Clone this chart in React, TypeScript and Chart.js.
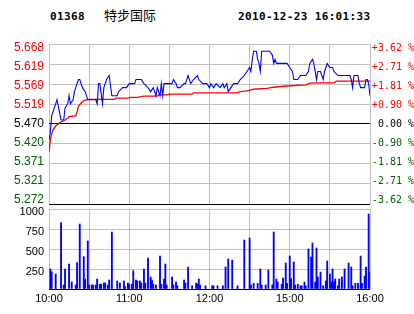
import React, { useEffect, useRef } from 'react';
import { Chart, registerables } from 'chart.js';

Chart.register(...registerables);

const stockCode = '01368';
const stockName = '特步国际';
const quoteTime = '2010-12-23 16:01:33';

const prevClose = 5.47;
const priceLow = 5.272;
const priceHigh = 5.668;
// bottom to top
const priceTickLabels = ['5.272', '5.321', '5.371', '5.420', '5.470', '5.519', '5.569', '5.619', '5.668'];
const changeTickLabels = ['-3.62 %', '-2.71 %', '-1.81 %', '-0.90 %', '0.00 %', '+0.90 %', '+1.81 %', '+2.71 %', '+3.62 %'];
const volumeTickLabels = ['', '250', '500', '750', '1000'];
const volumeMax = 1000;
const gridMinutes = [0, 30, 60, 90, 120, 150, 180, 210, 240];
const timeTickMinutes = [0, 60, 120, 180, 240];
const timeTickLabels = ['10:00', '11:00', '12:00', '15:00', '16:00'];

const priceMinutes = [0, 1, 2, 4, 6, 9, 11, 12, 14, 15, 16, 18, 19, 20, 22, 23, 25, 27, 29, 35, 36, 37, 38, 40, 41, 43, 45, 47, 51, 52, 55, 58, 60, 64, 65, 69, 71, 74, 76, 78, 80, 81, 83, 84, 85, 86, 92, 93, 95, 96, 98, 101, 102, 104, 105, 106, 108, 111, 112, 115, 118, 120, 121, 123, 125, 128, 130, 131, 133, 134, 136, 138, 141, 143, 146, 148, 150, 151, 152, 153, 155, 156, 157, 158, 159, 165, 167, 168, 169, 170, 178, 180, 182, 183, 186, 188, 192, 194, 195, 197, 198, 199, 200, 201, 203, 204, 205, 206, 208, 210, 212, 213, 216, 225, 226, 227, 228, 231, 232, 233, 236, 237, 238, 239, 240];
const priceValues = [5.43, 5.45, 5.49, 5.51, 5.53, 5.48, 5.48, 5.51, 5.52, 5.54, 5.52, 5.53, 5.55, 5.56, 5.58, 5.58, 5.56, 5.55, 5.53, 5.53, 5.52, 5.57, 5.57, 5.52, 5.56, 5.58, 5.59, 5.54, 5.54, 5.55, 5.56, 5.56, 5.57, 5.57, 5.58, 5.58, 5.57, 5.56, 5.55, 5.56, 5.54, 5.56, 5.54, 5.57, 5.54, 5.57, 5.57, 5.58, 5.57, 5.56, 5.56, 5.57, 5.57, 5.59, 5.58, 5.57, 5.58, 5.59, 5.58, 5.57, 5.57, 5.56, 5.57, 5.56, 5.57, 5.56, 5.57, 5.56, 5.57, 5.55, 5.56, 5.57, 5.57, 5.58, 5.59, 5.60, 5.61, 5.60, 5.63, 5.65, 5.65, 5.63, 5.62, 5.60, 5.65, 5.65, 5.64, 5.62, 5.63, 5.62, 5.62, 5.61, 5.60, 5.58, 5.58, 5.59, 5.59, 5.60, 5.62, 5.63, 5.62, 5.60, 5.58, 5.60, 5.60, 5.59, 5.58, 5.60, 5.62, 5.61, 5.61, 5.60, 5.59, 5.59, 5.58, 5.56, 5.59, 5.59, 5.57, 5.56, 5.56, 5.58, 5.58, 5.57, 5.54];

const avgMinutes = [0, 1, 2, 3, 5, 8, 12, 14, 15, 20, 21, 22, 24, 26, 30, 49, 50, 59, 61, 66, 71, 81, 82, 88, 90, 107, 108, 141, 143, 148, 153, 163, 168, 178, 192, 195, 201, 213, 215, 240];
const avgValues = [5.40, 5.43, 5.445, 5.455, 5.465, 5.473, 5.480, 5.484, 5.488, 5.490, 5.500, 5.513, 5.522, 5.528, 5.531, 5.531, 5.534, 5.534, 5.536, 5.536, 5.539, 5.539, 5.542, 5.542, 5.544, 5.544, 5.547, 5.547, 5.550, 5.552, 5.556, 5.558, 5.561, 5.564, 5.567, 5.571, 5.572, 5.572, 5.576, 5.576];

const volumeMinutes = [1, 2, 5, 9, 11, 12, 15, 17, 20, 21, 23, 26, 27, 29, 30, 32, 33, 35, 36, 38, 39, 41, 42, 44, 45, 47, 51, 53, 56, 57, 59, 60, 62, 63, 65, 66, 68, 69, 71, 72, 74, 76, 77, 78, 80, 83, 84, 86, 87, 88, 92, 93, 95, 96, 101, 102, 104, 107, 110, 111, 112, 113, 117, 122, 123, 126, 130, 132, 134, 137, 141, 146, 150, 151, 153, 156, 158, 159, 162, 164, 167, 168, 170, 171, 174, 175, 177, 178, 180, 181, 183, 184, 186, 188, 189, 191, 192, 194, 196, 197, 199, 200, 201, 203, 205, 207, 208, 210, 211, 212, 213, 214, 216, 217, 219, 221, 224, 226, 227, 229, 231, 233, 234, 236, 237, 239, 240];
const volumeValues = [250, 216, 187, 830, 50, 250, 312, 87, 50, 330, 812, 404, 125, 600, 50, 50, 50, 50, 125, 60, 60, 75, 75, 50, 112, 712, 100, 75, 100, 30, 75, 60, 60, 229, 112, 100, 100, 75, 250, 75, 387, 150, 112, 60, 50, 412, 60, 125, 312, 50, 150, 50, 87, 40, 112, 75, 275, 40, 75, 60, 125, 50, 40, 40, 40, 40, 40, 275, 375, 362, 40, 612, 637, 50, 70, 70, 250, 50, 50, 237, 50, 712, 125, 87, 60, 137, 325, 70, 412, 130, 337, 50, 60, 40, 40, 87, 40, 500, 400, 575, 87, 512, 150, 212, 40, 100, 350, 187, 87, 250, 87, 125, 40, 125, 150, 250, 325, 275, 40, 70, 70, 412, 70, 162, 275, 937, 212];

const RED = '#ff0000';
const GREEN = '#006000';
const BLACK = '#000000';
const GRID = '#c0c0c0';
const BLUE = '#0000ff';

const priceLabelsPlugin = {
  id: 'priceLabels',
  afterDraw(chart: any) {
    const { ctx, chartArea } = chart;
    const ys = chart.scales.y;
    const mid = (chartArea.top + chartArea.bottom) / 2;
    ctx.save();
    ctx.textBaseline = 'middle';
    ys.ticks.forEach((t: any, i: number) => {
      const p = ys.getPixelForValue(t.value);
      const ly = p + (mid - p) * 0.05;
      const color = t.value > prevClose + 1e-6 ? RED : t.value < prevClose - 1e-6 ? GREEN : BLACK;
      ctx.fillStyle = color;
      ctx.textAlign = 'right';
      ctx.font = '12px "Liberation Sans", Arial, sans-serif';
      ctx.fillText(priceTickLabels[i], chartArea.left - 5, ly);
      ctx.font = '10px "DejaVu Sans Mono", monospace';
      ctx.fillText(changeTickLabels[i], chart.width, ly);
    });
    ctx.restore();
  },
};

const volumeLabelsPlugin = {
  id: 'volumeLabels',
  afterDraw(chart: any) {
    const { ctx, chartArea } = chart;
    const ys = chart.scales.y;
    const xs = chart.scales.x;
    ctx.save();
    ctx.textBaseline = 'middle';
    ctx.fillStyle = BLACK;
    ctx.font = '11px "Liberation Sans", Arial, sans-serif';
    ctx.textAlign = 'right';
    ys.ticks.forEach((t: any, i: number) => {
      const label = volumeTickLabels[i];
      if (!label) return;
      const p = ys.getPixelForValue(t.value);
      ctx.fillText(label, chartArea.left - 5, p + 3);
    });
    ctx.textAlign = 'center';
    timeTickMinutes.forEach((m, i) => {
      const px = xs.getPixelForValue(m);
      ctx.fillText(timeTickLabels[i], px, chartArea.bottom + 9.5);
    });
    ctx.restore();
  },
};

export default function App() {
  const priceRef = useRef<HTMLCanvasElement>(null);
  const volRef = useRef<HTMLCanvasElement>(null);

  useEffect(() => {
    const xScale = {
      type: 'linear' as const,
      min: 0,
      max: 240,
      offset: false,
      afterBuildTicks: (s: any) => {
        s.ticks = gridMinutes.map((v) => ({ value: v }));
      },
      afterFit: (s: any) => {
        s.height = 0;
      },
      ticks: { display: false },
      grid: { color: GRID, drawTicks: false, offset: false, lineWidth: 1 },
      border: { display: false },
    };

    const priceChart = new Chart(priceRef.current as HTMLCanvasElement, {
      type: 'line',
      data: {
        datasets: [
          {
            data: priceMinutes.map((m, i) => ({ x: m, y: priceValues[i] })),
            borderColor: BLUE,
            borderWidth: 1.1,
            pointRadius: 0,
            tension: 0,
          },
          {
            data: avgMinutes.map((m, i) => ({ x: m, y: avgValues[i] })),
            borderColor: RED,
            borderWidth: 1.3,
            pointRadius: 0,
            tension: 0,
          },
        ],
      },
      options: {
        responsive: false,
        animation: false,
        events: [],
        layout: { padding: { left: 49, right: 44, top: 44, bottom: 110 } },
        plugins: { legend: { display: false }, tooltip: { enabled: false } },
        scales: {
          x: xScale as any,
          y: {
            type: 'linear',
            min: priceLow,
            max: priceHigh,
            afterBuildTicks: (s: any) => {
              s.ticks = priceTickLabels.map((_, i) => ({ value: priceLow + (i * (priceHigh - priceLow)) / 8 }));
            },
            afterFit: (s: any) => {
              s.width = 0;
            },
            ticks: { display: false },
            grid: {
              color: (c: any) =>
                c.index === 0 || (c.tick && Math.abs(c.tick.value - prevClose) < 1e-6) ? BLACK : GRID,
              drawTicks: false,
              lineWidth: 1,
            },
            border: { display: false },
          } as any,
        },
      },
      plugins: [priceLabelsPlugin],
    });

    const volChart = new Chart(volRef.current as HTMLCanvasElement, {
      type: 'bar',
      data: {
        datasets: [
          {
            data: volumeMinutes.map((m, i) => ({ x: m, y: volumeValues[i] })),
            backgroundColor: BLUE,
            barThickness: 1.2,
            grouped: false,
          } as any,
        ],
      },
      options: {
        responsive: false,
        animation: false,
        events: [],
        layout: { padding: { left: 49, right: 44, top: 209, bottom: 25 } },
        plugins: { legend: { display: false }, tooltip: { enabled: false } },
        scales: {
          x: xScale as any,
          y: {
            type: 'linear',
            min: 0,
            max: volumeMax,
            afterBuildTicks: (s: any) => {
              s.ticks = volumeTickLabels.map((_, i) => ({ value: (i * volumeMax) / 4 }));
            },
            afterFit: (s: any) => {
              s.width = 0;
            },
            ticks: { display: false },
            grid: {
              color: (c: any) => (c.index === 0 ? BLACK : GRID),
              drawTicks: false,
              lineWidth: 1,
            },
            border: { display: false },
          } as any,
        },
      },
      plugins: [volumeLabelsPlugin],
    });

    return () => {
      priceChart.destroy();
      volChart.destroy();
    };
  }, []);

  const headMono: React.CSSProperties = {
    position: 'absolute',
    top: 10,
    font: 'bold 11px "DejaVu Sans Mono", monospace',
    lineHeight: '14px',
    letterSpacing: '0.35px',
    whiteSpace: 'nowrap',
    color: '#000',
  };

  return (
    <div style={{ position: 'absolute', left: 0, top: 0, width: 414, height: 314, background: '#fff', overflow: 'hidden' }}>
      <div style={{ ...headMono, left: 50 }}>{stockCode}</div>
      <div
        style={{
          position: 'absolute',
          left: 104,
          top: 8,
          font: '13px "Noto Sans CJK SC", sans-serif',
          lineHeight: '14px',
          whiteSpace: 'nowrap',
          color: '#000',
        }}
      >
        {stockName}
      </div>
      <div style={{ ...headMono, left: 238 }}>{quoteTime}</div>
      <canvas ref={volRef} width={414} height={314} style={{ position: 'absolute', left: 0, top: 0, width: 414, height: 314 }} />
      <canvas ref={priceRef} width={414} height={314} style={{ position: 'absolute', left: 0, top: 0, width: 414, height: 314 }} />
    </div>
  );
}
